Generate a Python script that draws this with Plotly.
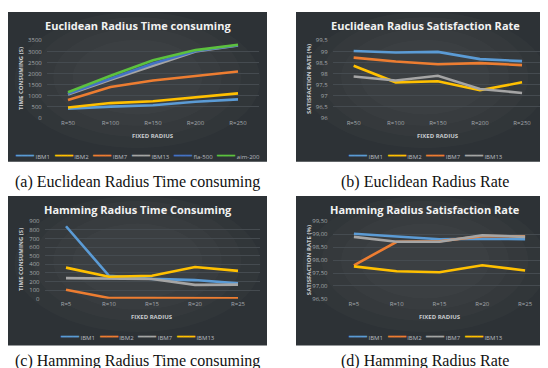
import plotly.graph_objects as go

W, H = 548, 368

# ---------------- data ----------------
euc_cats = ["R=50", "R=100", "R=150", "R=200", "R=250"]
ham_cats = ["R=5", "R=10", "R=15", "R=20", "R=25"]

# (a) Euclidean radius time consuming (s)
a_names = ["IBM1", "IBM2", "IBM7", "IBM13", "fla-500", "aim-200"]
a_ibm1 = [400, 500, 560, 720, 830]
a_ibm2 = [460, 660, 740, 930, 1100]
a_ibm7 = [800, 1390, 1680, 1880, 2090]
a_ibm13 = [1050, 1720, 2350, 3000, 3270]
a_fla500 = [1080, 1780, 2450, 3020, 3280]
a_aim200 = [1150, 1900, 2600, 3060, 3300]
a_colors = ["#5b9bd5", "#ffc000", "#ed7d31", "#a5a5a5", "#4472c4", "#5cc13e"]

# (b) Euclidean radius satisfaction rate (%)
b_names = ["IBM1", "IBM2", "IBM7", "IBM13"]
b_ibm1 = [99.02, 98.95, 98.98, 98.65, 98.56]
b_ibm2 = [98.35, 97.60, 97.65, 97.24, 97.60]
b_ibm7 = [98.72, 98.54, 98.42, 98.47, 98.38]
b_ibm13 = [97.86, 97.68, 97.90, 97.30, 97.12]
b_colors = ["#5b9bd5", "#ffc000", "#ed7d31", "#a5a5a5"]
b_ticks = [96, 96.5, 97, 97.5, 98, 98.5, 99, 99.5]
b_ticktext = ["96", "96,5", "97", "97,5", "98", "98,5", "99", "99,5"]

# (c) Hamming radius time consuming (s)
c_names = ["IBM1", "IBM2", "IBM7", "IBM13"]
c_ibm1 = [843, 266, 230, 216, 178]
c_ibm2 = [103, 8, 8, 8, 5]
c_ibm7 = [239, 235, 228, 160, 163]
c_ibm13 = [361, 254, 266, 368, 323]
c_colors = ["#5b9bd5", "#ed7d31", "#a5a5a5", "#ffc000"]

# (d) Hamming radius satisfaction rate (%)
d_names = ["IBM1", "IBM2", "IBM7", "IBM13"]
d_ibm1 = [99.02, 98.92, 98.81, 98.83, 98.81]
d_ibm2 = [97.80, 98.71, 98.73, 98.93, 98.92]
d_ibm7 = [98.90, 98.71, 98.71, 98.96, 98.90]
d_ibm13 = [97.76, 97.57, 97.53, 97.80, 97.60]
d_colors = ["#5b9bd5", "#ed7d31", "#a5a5a5", "#ffc000"]
d_ticks = [96.5, 97, 97.5, 98, 98.5, 99, 99.5]
d_ticktext = ["96,50", "97,00", "97,50", "98,00", "98,50", "99,00", "99,50"]

titles = ["Euclidean Radius Time consuming", "Euclidean Radius Satisfaction Rate",
          "Hamming Radius Time Consuming", "Hamming Radius Satisfaction Rate"]
ytitles = ["TIME CONSUMING (S)", "SATISFACTION RATE (%)",
           "TIME CONSUMING (S)", "SATISFACTION RATE (%)"]
captions = ["(a) Euclidean Radius Time consuming", "(b) Euclidean Radius Rate",
            "(c) Hamming Radius Time consuming", "(d) Hamming Radius Rate"]

# ---------------- layout helpers ----------------
def X(px):
    return px / W

def Y(py):
    return 1 - py / H

BG = "#2d3236"
TICK = "#a3a8ac"
GRID = "#454b50"

panels = [
    dict(box=(0, 0, 259, 153), plotx=(38.75, 251.25), ploty=(29, 108), yrng=[0, 3500], ytk=list(range(0, 3501, 500)), ytt=None,
         cats=euc_cats, series=[a_ibm1, a_ibm2, a_ibm7, a_ibm13, a_fla500, a_aim200], names=a_names, colors=a_colors,
         ytx=13, xtitle_y=127, leg_y=146),
    dict(box=(288, 0, 546, 153), plotx=(324.6, 535.1), ploty=(29, 108), yrng=[96, 99.5], ytk=b_ticks, ytt=b_ticktext,
         cats=euc_cats, series=[b_ibm1, b_ibm2, b_ibm7, b_ibm13], names=b_names, colors=b_colors,
         ytx=301, xtitle_y=127, leg_y=146),
    dict(box=(0, 188, 259, 341), plotx=(36.5, 251.5), ploty=(214, 293), yrng=[0, 900], ytk=list(range(0, 901, 100)), ytt=None,
         cats=ham_cats, series=[c_ibm1, c_ibm2, c_ibm7, c_ibm13], names=c_names, colors=c_colors,
         ytx=13, xtitle_y=312, leg_y=331),
    dict(box=(288, 188, 546, 341), plotx=(324.5, 538.5), ploty=(214, 293.3), yrng=[96.5, 99.5], ytk=d_ticks, ytt=d_ticktext,
         cats=ham_cats, series=[d_ibm1, d_ibm2, d_ibm7, d_ibm13], names=d_names, colors=d_colors,
         ytx=301, xtitle_y=312, leg_y=331),
]

fig = go.Figure()
shapes = []
annotations = []
layout_axes = {}

for i, p in enumerate(panels, start=1):
    sx = "" if i == 1 else str(i)
    x0, y0, x1, y1 = p["box"]
    # panel background with soft radial lightening
    shapes.append(dict(type="rect", xref="paper", yref="paper", x0=X(x0), x1=X(x1), y0=Y(y1), y1=Y(y0),
                       fillcolor=BG, line=dict(width=0), layer="below"))
    cx, cy = (x0 + x1) / 2, (y0 + y1) / 2 - 10
    for k, f in enumerate([0.95, 0.8, 0.65, 0.5]):
        rx, ry = (x1 - x0) / 2 * f, (y1 - y0) / 2 * f
        shapes.append(dict(type="circle", xref="paper", yref="paper",
                           x0=X(max(x0, cx - rx)), x1=X(min(x1, cx + rx)),
                           y0=Y(min(y1, cy + ry)), y1=Y(max(y0, cy - ry)),
                           fillcolor="rgba(255,255,255,0.018)", line=dict(width=0), layer="below"))
    # traces
    for name, vals, col in zip(p["names"], p["series"], p["colors"]):
        fig.add_trace(go.Scatter(x=p["cats"], y=vals, mode="lines", name=name,
                                 line=dict(color=col, width=2.6), showlegend=False,
                                 xaxis="x" + sx, yaxis="y" + sx))
    layout_axes["xaxis" + sx] = dict(domain=[X(p["plotx"][0]), X(p["plotx"][1])], anchor="y" + sx,
                                     type="category", range=[-0.5, 4.5], showgrid=False, zeroline=False,
                                     showline=False, ticks="", tickfont=dict(size=6, color=TICK, family="Open Sans"),
                                     fixedrange=True)
    yax = dict(domain=[Y(p["ploty"][1]), Y(p["ploty"][0])], anchor="x" + sx, range=p["yrng"],
               tickvals=p["ytk"], showgrid=True, gridcolor=GRID, gridwidth=1, zeroline=False,
               showline=False, ticks="", tickfont=dict(size=6, color=TICK, family="Open Sans"),
               ticklabelstandoff=4)
    if p["ytt"] is not None:
        yax["ticktext"] = p["ytt"]
    layout_axes["yaxis" + sx] = yax

    pcx = (p["plotx"][0] + p["plotx"][1]) / 2
    # chart title
    annotations.append(dict(text="<b>" + titles[i - 1] + "</b>", x=X((x0 + x1) / 2), y=Y(y0 + 14),
                            xref="paper", yref="paper", showarrow=False, xanchor="center", yanchor="middle",
                            font=dict(size=11, color="#f2f2f2", family="Open Sans")))
    # x axis title
    annotations.append(dict(text="<b>FIXED RADIUS</b>", x=X(pcx), y=Y(p["xtitle_y"]),
                            xref="paper", yref="paper", showarrow=False, xanchor="center", yanchor="middle",
                            font=dict(size=6, color="#c8cbce", family="Open Sans")))
    # y axis title
    annotations.append(dict(text="<b>" + ytitles[i - 1] + "</b>", x=X(p["ytx"]),
                            y=Y((p["ploty"][0] + p["ploty"][1]) / 2),
                            xref="paper", yref="paper", showarrow=False, xanchor="center", yanchor="middle",
                            textangle=-90, font=dict(size=6, color="#c8cbce", family="Open Sans")))
    # legend (text based)
    parts = ['<span style="color:%s;font-size:10px">━━━</span> %s' % (c, n)
             for n, c in zip(p["names"], p["colors"])]
    annotations.append(dict(text="   ".join(parts), x=X((x0 + x1) / 2), y=Y(p["leg_y"]),
                            xref="paper", yref="paper", showarrow=False, xanchor="center", yanchor="middle",
                            font=dict(size=6, color="#b8bcc0", family="Open Sans")))
    # caption
    cap_y = 174 if i <= 2 else 357
    annotations.append(dict(text=captions[i - 1], x=X((x0 + x1) / 2), y=Y(cap_y),
                            xref="paper", yref="paper", showarrow=False, xanchor="center", yanchor="middle",
                            font=dict(size=16, color="#111111", family="Liberation Serif")))

fig.update_layout(width=W, height=H, margin=dict(l=0, r=0, t=0, b=0),
                  paper_bgcolor="white", plot_bgcolor="rgba(0,0,0,0)",
                  showlegend=False, shapes=shapes, annotations=annotations, **layout_axes)

fig.write_html("out.html", include_plotlyjs=True, config={"displayModeBar": False})
